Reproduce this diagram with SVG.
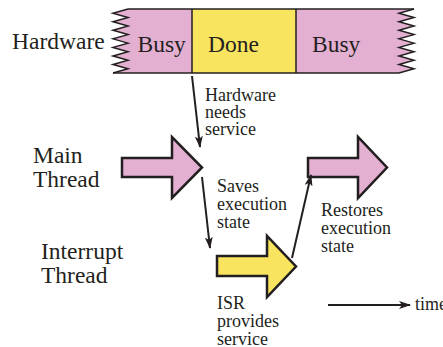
<svg xmlns="http://www.w3.org/2000/svg" width="443" height="347" viewBox="0 0 443 347">
  <style>
    text { font-family: 'Liberation Serif', 'DejaVu Serif', serif; fill: #231F20; }
    .big { font-size: 23.5px; }
    .small { font-size: 18px; }
    .edge { fill: none; stroke: #231F20; stroke-width: 1.5; stroke-linejoin: miter; }
    .thread { stroke: #231F20; stroke-width: 2.5; stroke-linejoin: miter; }
    .pink { fill: #E4B0D2; }
    .yellow { fill: #F8E45F; }
    .conn { fill: none; stroke: #231F20; stroke-width: 2; }
  </style>
  <defs>
    <marker id="head" viewBox="0 0 12 8" refX="11" refY="4" markerWidth="12" markerHeight="8" markerUnits="userSpaceOnUse" orient="auto">
      <path d="M0,0 L12,4 L0,8 L3,4 z" fill="#231F20"/>
    </marker>
    <!-- zigzag torn edge, drawn from top (right vertex) to bottom (left vertex) -->
    <path id="zig" d="M128,9 L113,13.27 L128,17.53 L113,21.8 L128,26.07 L113,30.33 L128,34.6 L113,38.87 L128,43.13 L113,47.4 L128,51.67 L113,55.93 L128,60.2 L113,64.47 L128,68.73 L113,73"/>
  </defs>

  <!-- hardware timeline bar -->
  <g id="hardware-bar">
    <path class="pink" d="M128,9 L414,9 L399,13.27 L414,17.53 L399,21.8 L414,26.07 L399,30.33 L414,34.6 L399,38.87 L414,43.13 L399,47.4 L414,51.67 L399,55.93 L414,60.2 L399,64.47 L414,68.73 L399,73 L113,73 L128,68.73 L113,64.47 L128,60.2 L113,55.93 L128,51.67 L113,47.4 L128,43.13 L113,38.87 L128,34.6 L113,30.33 L128,26.07 L113,21.8 L128,17.53 L113,13.27 Z"/>
    <rect class="yellow" x="192" y="9" width="104" height="64"/>
    <use href="#zig" class="edge"/>
    <use href="#zig" class="edge" transform="translate(286,0)"/>
    <line class="edge" x1="128" y1="9" x2="414" y2="9"/>
    <line class="edge" x1="113" y1="73" x2="399" y2="73"/>
    <line class="edge" x1="192" y1="9" x2="192" y2="73"/>
    <line class="edge" x1="296" y1="9" x2="296" y2="73"/>
    <text class="big" x="137.5" y="52">Busy</text>
    <text class="big" x="208" y="52">Done</text>
    <text class="big" x="312" y="52">Busy</text>
  </g>

  <g id="label-hardware">
    <text class="big" x="12" y="49">Hardware</text>
  </g>

  <!-- main thread, before and after the interrupt -->
  <g id="main-thread">
    <polygon class="thread pink" points="122,158 172,158 172,137 202,167.5 172,198 172,177 122,177"/>
  </g>
  <g id="main-thread-resume">
    <polygon class="thread pink" points="308,158 358,158 358,137 387,167.5 358,198 358,177 308,177"/>
  </g>
  <g id="interrupt-thread">
    <polygon class="thread yellow" points="217,256 267,256 267,236 296,266.5 267,297 267,276 217,276"/>
  </g>

  <g id="label-main">
    <text class="big" x="33" y="163">Main</text>
    <text class="big" x="33" y="187">Thread</text>
  </g>
  <g id="label-interrupt">
    <text class="big" x="41" y="259">Interrupt</text>
    <text class="big" x="41" y="283">Thread</text>
  </g>

  <!-- transitions between the threads -->
  <g id="connectors">
    <line class="conn" x1="192" y1="76" x2="200" y2="147" marker-end="url(#head)"/>
    <line class="conn" x1="202" y1="177" x2="210" y2="248" marker-end="url(#head)"/>
    <line class="conn" x1="292" y1="258" x2="311" y2="175" marker-end="url(#head)"/>
    <line class="conn" x1="328" y1="305" x2="410" y2="305" marker-end="url(#head)"/>
  </g>

  <g id="notes">
    <text class="small" x="205" y="101">Hardware</text>
    <text class="small" x="205" y="118">needs</text>
    <text class="small" x="205" y="135">service</text>
    <text class="small" x="217" y="192">Saves</text>
    <text class="small" x="217" y="210">execution</text>
    <text class="small" x="217" y="228">state</text>
    <text class="small" x="321" y="216">Restores</text>
    <text class="small" x="321" y="234">execution</text>
    <text class="small" x="321" y="252">state</text>
    <text class="small" x="217" y="309">ISR</text>
    <text class="small" x="217" y="327">provides</text>
    <text class="small" x="217" y="345">service</text>
    <text class="small" x="415" y="310">time</text>
  </g>
</svg>
